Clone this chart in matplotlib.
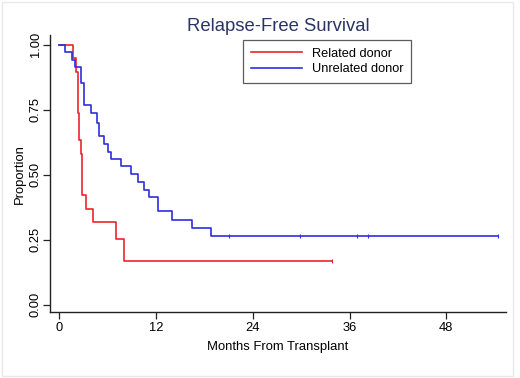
import matplotlib
matplotlib.use("Agg")
import matplotlib.pyplot as plt
from matplotlib.patches import Rectangle

plt.rcParams['font.family'] = ['Liberation Sans', 'DejaVu Sans']

# Related donor KM steps (time in months, survival after event)
red_t = [0, 1.66, 2.03, 2.30, 2.34, 2.38, 2.42, 2.46, 2.72, 2.76, 2.80, 2.84, 3.30, 4.20, 7.00, 8.00, 33.8]
red_s = [1.0, 0.947, 0.895, 0.842, 0.789, 0.737, 0.684, 0.632, 0.579, 0.526, 0.474, 0.421, 0.368, 0.316, 0.253, 0.169, 0.169]

# Unrelated donor KM steps
blue_t = [0, 0.7, 1.6, 2.0, 2.7, 3.1, 3.9, 4.7, 4.9, 5.5, 6.05, 6.45, 7.7, 8.9, 9.8, 10.55, 11.15, 12.25, 13.95, 16.4, 18.8, 54.4]
blue_s = [1.0, 0.971, 0.941, 0.912, 0.853, 0.768, 0.735, 0.697, 0.647, 0.618, 0.588, 0.560, 0.532, 0.503, 0.472, 0.441, 0.414, 0.358, 0.327, 0.295, 0.265, 0.265]

# censoring marks
blue_cens_t = [21.1, 29.9, 36.9, 38.3, 54.4]
blue_cens_s = [0.265, 0.265, 0.265, 0.265, 0.265]
red_cens_t = [33.8]
red_cens_s = [0.169]

xticks = [0, 12, 24, 36, 48]
yticks = [0.00, 0.25, 0.50, 0.75, 1.00]
ytick_labels = ["0.00", "0.25", "0.50", "0.75", "1.00"]

red_c = '#e8262d'
blue_c = '#2f2fdc'

fig = plt.figure(figsize=(5.2, 3.78), dpi=100)
ax = fig.add_axes([50/520, 1-312.3/378, 456/520, (312.3-35)/378])

ax.step(red_t, red_s, where='post', color=red_c, lw=1.2, label='Related donor')
ax.step(blue_t, blue_s, where='post', color=blue_c, lw=1.2, label='Unrelated donor')
ax.plot(blue_cens_t, blue_cens_s, ls='none', marker='|', ms=2.5, mew=0.8, color=blue_c)
ax.plot(red_cens_t, red_cens_s, ls='none', marker='|', ms=2.5, mew=0.8, color=red_c)

ax.set_xlim(-1.15, 55.4)
ax.set_ylim(-0.03, 1.037)
ax.set_xticks(xticks)
ax.set_xticklabels([str(v) for v in xticks], fontsize=9.3)
ax.set_yticks(yticks)
ax.set_yticklabels(ytick_labels, fontsize=9.3, rotation=90, va='center')
ax.tick_params(axis='both', direction='out', length=5, width=0.9, color='#222222')
ax.tick_params(axis='y', pad=1)
ax.tick_params(axis='x', pad=2)
for s in ['top', 'right']:
    ax.spines[s].set_visible(False)
for s in ['left', 'bottom']:
    ax.spines[s].set_linewidth(1.0)
    ax.spines[s].set_color('#222222')

ax.set_xlabel('Months From Transplant', fontsize=9.4, labelpad=5)
ax.set_ylabel('Proportion', fontsize=9.4, labelpad=3)
ax.set_title('Relapse-Free Survival', fontsize=13.3, color='#2b3565', pad=3)

leg = ax.legend(loc='upper left', bbox_to_anchor=(0.423, 0.982), borderaxespad=0,
                fontsize=9.2, handlelength=4.0, frameon=True, fancybox=False,
                edgecolor='#333333', borderpad=0.6, labelspacing=0.3, handletextpad=0.8)
leg.get_frame().set_linewidth(0.9)

fig.patches.append(Rectangle((2/520, 2/378), 511/520, 374/378, transform=fig.transFigure,
                             fill=False, edgecolor='#e8e8e8', lw=1))

fig.savefig('out.png', dpi=100)
